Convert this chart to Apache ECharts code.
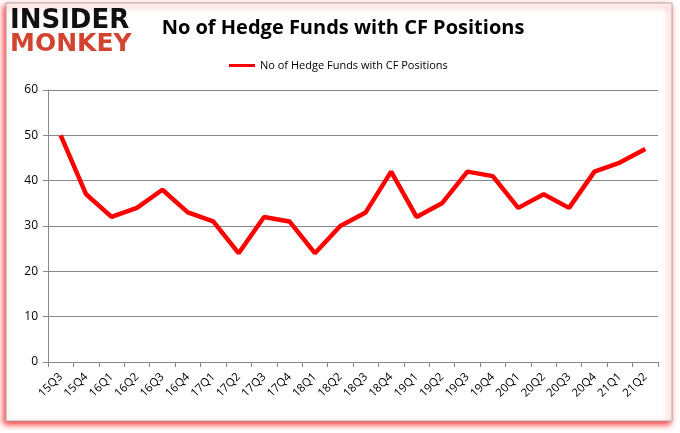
<!DOCTYPE html>
<html><head><meta charset="utf-8">
<script src="https://cdn.jsdelivr.net/npm/echarts@6/dist/echarts.min.js"></script>
<style>html,body{margin:0;padding:0;background:#fff}#c{width:680px;height:433px}</style>
</head><body><div id="c"></div>
<script>
const categories = ["15Q3","15Q4","16Q1","16Q2","16Q3","16Q4","17Q1","17Q2","17Q3","17Q4","18Q1","18Q2","18Q3","18Q4","19Q1","19Q2","19Q3","19Q4","20Q1","20Q2","20Q3","20Q4","21Q1","21Q2"];
const funds = [50,37,32,34,38,33,31,24,32,31,24,30,33,42,32,35,42,41,34,37,34,42,44,47];
const seriesName = "No of Hedge Funds with CF Positions";
const chart = echarts.init(document.getElementById('c'), null, {renderer:'canvas'});
chart.setOption({
  animation:false,
  backgroundColor:'#fff',
  title:{text:seriesName,left:338,top:13,textAlign:'center',
    textStyle:{fontFamily:'Open Sans',fontWeight:'bold',fontSize:20,color:'#000'}},
  legend:{data:[seriesName],top:55,left:224,itemWidth:26,itemHeight:3,icon:'rect',itemGap:6,
    textStyle:{fontFamily:'Open Sans',fontSize:11,color:'#000'}},
  graphic:[
    {type:'rect',z:-1,shape:{x:6,y:3,width:666,height:418},
      style:{fill:'#fff',stroke:'#aaa',lineWidth:1,shadowColor:'rgba(255,0,0,0.8)',shadowBlur:6,shadowOffsetX:-2,shadowOffsetY:3}},
    {type:'text',left:10,top:8,style:{text:'INSIDER',font:'900 26px "DejaVu Sans"',fill:'#111'}},
    {type:'text',left:10,top:32,style:{text:'MONKEY',font:'900 25px "DejaVu Sans"',fill:'#d24430'}}
  ],
  grid:{left:48,right:22,top:90,bottom:71},
  xAxis:{type:'category',data:categories,boundaryGap:true,
    axisLine:{lineStyle:{color:'#888'}},
    axisTick:{show:true,alignWithLabel:false,length:5,lineStyle:{color:'#888'}},
    axisLabel:{rotate:45,fontFamily:'Open Sans',fontSize:11.5,color:'#000',margin:13,interval:0}},
  yAxis:{type:'value',min:0,max:60,interval:10,
    axisLine:{show:true,lineStyle:{color:'#888'}},
    axisTick:{show:true,length:5,lineStyle:{color:'#888'}},
    splitLine:{lineStyle:{color:'#888',width:1}},
    axisLabel:{fontFamily:'Open Sans',fontSize:12,color:'#000',margin:10}},
  series:[{name:seriesName,type:'line',data:funds,symbol:'none',
    lineStyle:{color:'#ff0000',width:4.5},itemStyle:{color:'#ff0000'}}]
});
</script></body></html>
